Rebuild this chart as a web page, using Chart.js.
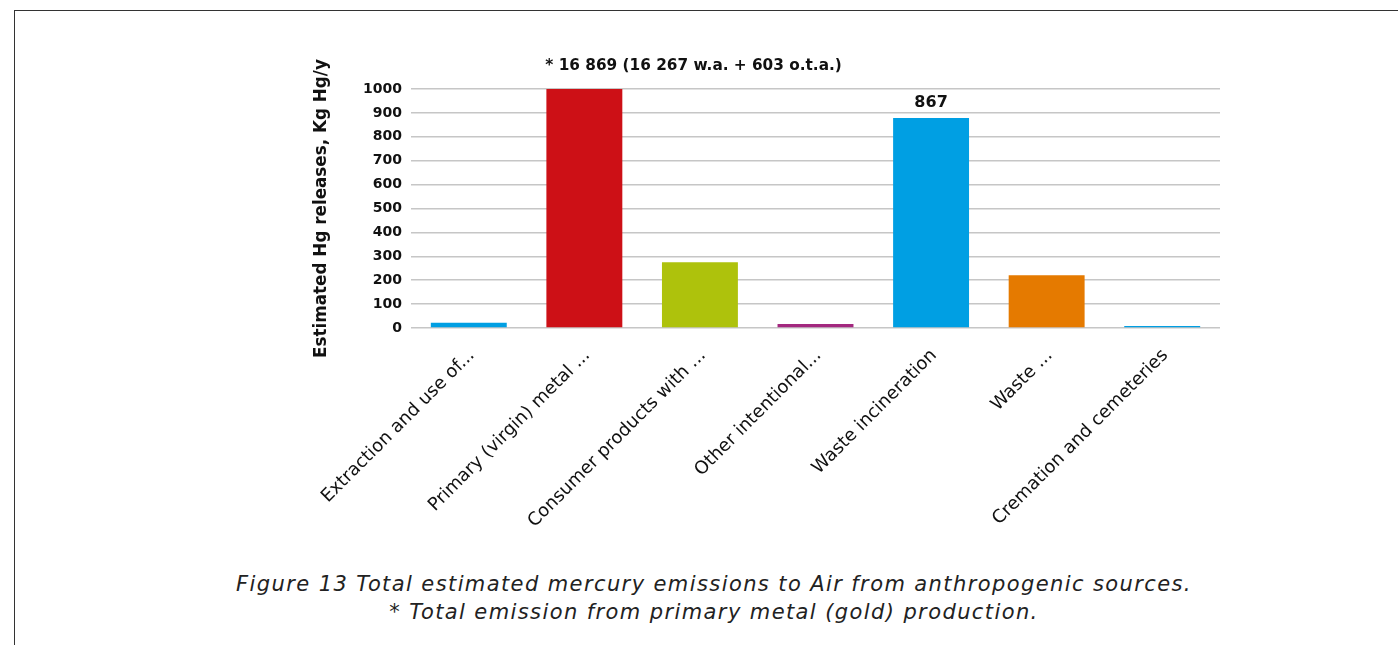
<!DOCTYPE html>
<html>
<head>
<meta charset="utf-8">
<script src="https://cdn.jsdelivr.net/npm/chart.js@4.4.1/dist/chart.umd.min.js"></script>
<style>
    html, body { margin: 0; padding: 0; background: #fff; }
    body { width: 1398px; height: 645px; position: relative; overflow: hidden; font-family: "DejaVu Sans", sans-serif; }
    #frame { position: absolute; left: 14px; top: 10px; width: 1400px; height: 700px; border-top: 1.5px solid #333; border-left: 1.5px solid #333; }
    #chart-box { position: absolute; left: 0; top: 0; width: 1398px; height: 560px; }
    #caption { position: absolute; left: 0; width: 1428px; top: 570px; text-align: center; font-style: italic; font-size: 21px; letter-spacing: 1.4px; line-height: 28px; color: #222; }
</style>
</head>
<body>
<div id="frame"></div>
<div id="chart-box"><canvas id="hg-chart" width="1398" height="560"></canvas></div>
<div id="caption">Figure 13 Total estimated mercury emissions to Air from anthropogenic sources.<br>* Total emission from primary metal (gold) production.</div>
<script>
// Hg releases to air, by source category

const categories = [
    "Extraction and use of...",
    "Primary (virgin) metal ...",
    "Consumer products with ...",
    "Other intentional...",
    "Waste incineration",
    "Waste ...",
    "Cremation and cemeteries",
];
const releases = [22, 16869, 275, 17, 879, 221, 8];
const barColors = ["#009fe3", "#cd1016", "#aec20c", "#a3287f", "#009fe3", "#e57a00", "#009fe3"];
const yTicks = [0, 100, 200, 300, 400, 500, 600, 700, 800, 900, 1000];
// text notes shown above bars (index -> text)
const noteIndex = [1, 4];
const noteText = ["* 16 869 (16 267 w.a. + 603 o.t.a.)", "867"];

const FONT = "'DejaVu Sans', sans-serif";

// draws the notes above the bars
const barNotes = {
    id: "barNotes",
    afterDatasetsDraw(chart) {
        const c = chart.ctx;
        const bars = chart.getDatasetMeta(0).data;
        c.save();
        c.fillStyle = "#111";
        c.textBaseline = "middle";
        noteIndex.forEach((idx, i) => {
            const bar = bars[idx];
            if (i === 0) {
                c.font = "bold 15.3px " + FONT;
                c.textAlign = "left";
                c.fillText(noteText[i], bar.x - 39, chart.chartArea.top - 23);
            } else {
                c.font = "bold 16px " + FONT;
                c.textAlign = "center";
                c.fillText(noteText[i], bar.x, bar.y - 15);
            }
        });
        c.restore();
    },
};

const ctx = document.getElementById("hg-chart").getContext("2d");
new Chart(ctx, {
    type: "bar",
    data: {
        labels: categories,
        datasets: [
            {
                data: releases,
                backgroundColor: barColors,
                borderWidth: 0,
                categoryPercentage: 1,
                barPercentage: 0.657,
            },
        ],
    },
    options: {
        responsive: false,
        animation: false,
        layout: { padding: { left: 308, top: 89, right: 178, bottom: 0 } },
        plugins: {
            legend: { display: false },
            tooltip: { enabled: false },
        },
        scales: {
            x: {
                grid: { display: false, drawTicks: false },
                border: { display: false },
                ticks: {
                    autoSkip: false,
                    maxRotation: 45,
                    minRotation: 45,
                    padding: 17,
                    labelOffset: 3,
                    color: "#111",
                    font: { family: FONT, size: 18 },
                },
                afterFit: (scale) => { scale.height = 232; },
            },
            y: {
                min: 0,
                max: 1000,
                afterBuildTicks: (scale) => { scale.ticks = yTicks.map((v) => ({ value: v })); },
                grid: { color: "#c6c6c6", lineWidth: 1.5, drawTicks: false },
                border: { display: false },
                ticks: {
                    padding: 9,
                    color: "#111",
                    font: { family: FONT, size: 14, weight: "bold" },
                    callback: (v) => String(v),
                },
                title: {
                    display: true,
                    text: "Estimated Hg releases, Kg Hg/y",
                    color: "#111",
                    font: { family: FONT, size: 16.8, weight: "bold" },
                },
                afterFit: (scale) => { scale.width = 103; },
            },
        },
    },
    plugins: [barNotes],
});
</script>
</body>
</html>
